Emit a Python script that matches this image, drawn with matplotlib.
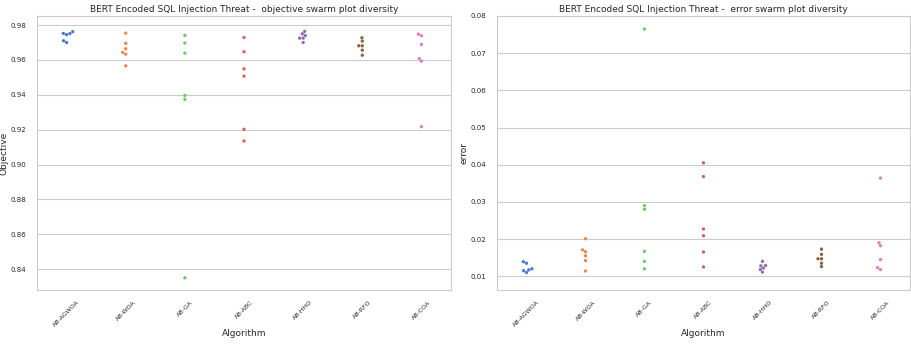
import matplotlib
matplotlib.use("Agg")
import matplotlib.pyplot as plt
import pandas as pd
import seaborn as sns

algorithms = ["AB-AGWOA", "AB-WOA", "AB-GA", "AB-ABC", "AB-HHO", "AB-RFO", "AB-COA"]

# objective values per algorithm
objective = {
    "AB-AGWOA": [0.9762, 0.9752, 0.9751, 0.9745, 0.9710, 0.9700],
    "AB-WOA": [0.9754, 0.9695, 0.9664, 0.9643, 0.9633, 0.9566],
    "AB-GA": [0.9741, 0.9697, 0.9639, 0.9396, 0.9374, 0.8350],
    "AB-ABC": [0.9729, 0.9647, 0.9549, 0.9507, 0.9202, 0.9135],
    "AB-HHO": [0.9764, 0.9750, 0.9740, 0.9725, 0.9725, 0.9700],
    "AB-RFO": [0.9727, 0.9708, 0.9681, 0.9681, 0.9656, 0.9627],
    "AB-COA": [0.9748, 0.9739, 0.9689, 0.9608, 0.9593, 0.9217],
}

# error values per algorithm
error = {
    "AB-AGWOA": [0.0139, 0.0135, 0.0120, 0.0117, 0.0115, 0.0110],
    "AB-WOA": [0.0201, 0.0171, 0.0166, 0.0155, 0.0142, 0.0114],
    "AB-GA": [0.0765, 0.0290, 0.0280, 0.0167, 0.0140, 0.0120],
    "AB-ABC": [0.0405, 0.0368, 0.0227, 0.0209, 0.0165, 0.0125],
    "AB-HHO": [0.0140, 0.0129, 0.0128, 0.0122, 0.0118, 0.0111],
    "AB-RFO": [0.0173, 0.0159, 0.0147, 0.0147, 0.0135, 0.0126],
    "AB-COA": [0.0364, 0.0190, 0.0182, 0.0145, 0.0123, 0.0118],
}


def to_frame(d, col):
    rows = []
    for alg in algorithms:
        for v in d[alg]:
            rows.append({"Algorithm": alg, col: v})
    return pd.DataFrame(rows)


sns.set_theme(style="whitegrid")
plt.rcParams["font.family"] = ["DejaVu Sans"]

fig = plt.figure(figsize=(9.12, 3.44), dpi=100)
ax1 = fig.add_axes([37 / 912, 54 / 344, 414 / 912, 274 / 344])
ax2 = fig.add_axes([497 / 912, 54 / 344, 413 / 912, 274 / 344])

df1 = to_frame(objective, "Objective")
sns.swarmplot(data=df1, x="Algorithm", y="Objective", hue="Algorithm",
              palette="muted", size=2.4, legend=False, ax=ax1)
ax1.set_ylim(0.828, 0.9852)
ax1.set_title("BERT Encoded SQL Injection Threat -  objective swarm plot diversity", fontsize=6.5, pad=3)

df2 = to_frame(error, "error")
sns.swarmplot(data=df2, x="Algorithm", y="error", hue="Algorithm",
              palette="muted", size=2.4, legend=False, ax=ax2)
ax2.set_ylim(0.0063, 0.08)
ax2.set_title("BERT Encoded SQL Injection Threat -  error swarm plot diversity", fontsize=6.5, pad=3)

for ax in (ax1, ax2):
    ax.tick_params(axis="y", labelsize=5, pad=2)
    ax.tick_params(axis="x", labelsize=4.5, pad=1)
    for lbl in ax.get_xticklabels():
        lbl.set_rotation(45)
    ax.set_xlabel("Algorithm", fontsize=6.5, labelpad=1)
    ax.set_ylabel(ax.get_ylabel(), fontsize=6.5, labelpad=1)
    for s in ax.spines.values():
        s.set_linewidth(0.8)
    ax.grid(axis="y", linewidth=0.8)

fig.savefig("out.png", dpi=100)
